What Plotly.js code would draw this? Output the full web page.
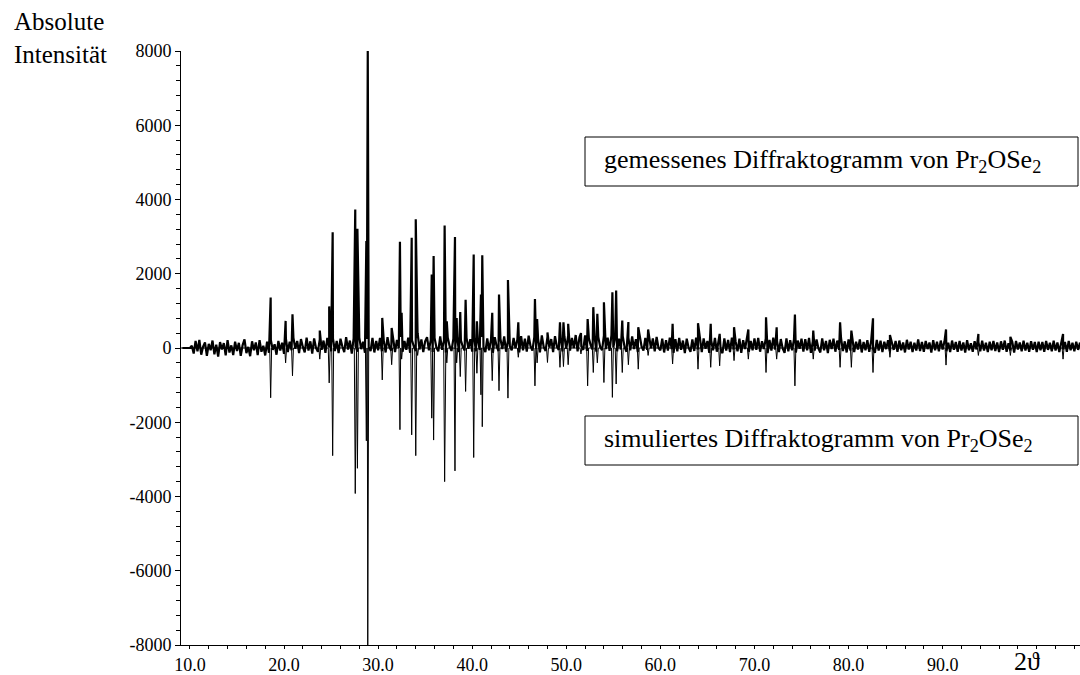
<!DOCTYPE html>
<html>
<head>
<meta charset="utf-8">
<script src="https://cdn.plot.ly/plotly-3.0.1.min.js"></script>
<style>html,body{margin:0;padding:0;background:#fff;}#chart{width:1080px;height:675px;}</style>
</head>
<body>
<div id="chart"></div>
<script>
// ---- data ----
// 2-theta positions of the reflections (degrees)
const peakPos = [18.58,20.17,20.9,23.8,24.8,25.17,27.57,27.8,28.75,28.9,
  30.44,31.44,32.32,32.5,33.57,34.0,34.2,35.7,35.9,37.07,37.3,38.17,38.35,38.73,39.3,
  40.16,40.5,40.93,41.07,42.13,42.85,43.8,44.9,46.67,46.9,48.0,49.33,49.7,50.2,51.56,
  52.27,52.87,53.3,54.0,54.9,55.3,55.95,56.6,57.65,58.7,61.3,64.0,65.35,66.3,67.83,
  69.35,71.23,72.36,74.3,76.25,79.1,80.3,82.6,84.4,90.36,93.8,97.2,102.8];
// measured peak heights (positive)
const measHeight = [1360,730,910,470,1120,3120,3730,3210,2880,8000,
  810,540,2860,950,2970,3470,400,1980,2480,3300,720,2990,810,970,1300,
  2520,720,1440,2500,950,1440,1830,690,1320,780,420,690,690,650,400,
  780,1100,920,1230,1500,1550,740,700,560,500,650,670,650,380,560,
  500,830,560,900,470,690,470,800,350,500,380,300,380];
// simulated peak heights (plotted negative)
const simHeight = [-1340,-400,-750,-300,-940,-2900,-3920,-3240,-2500,-8000,
  -860,-450,-2200,-300,-2340,-2900,-200,-1890,-2480,-3600,-400,-3310,-400,-770,-1170,
  -2950,-680,-1260,-2120,-880,-1150,-1350,-250,-1020,-400,-390,-520,-500,-450,-160,
  -1020,-660,-400,-930,-1330,-970,-660,-450,-570,-200,-430,-570,-520,-480,-340,
  -300,-660,-300,-1020,-300,-520,-520,-660,-250,-460,-200,-200,-300];
// measured background (noise) on a 0.2 degree grid starting at 9.2
const bgStart = 9.2, bgStep = 0.2;
const measBackground = [0,0,0,0,0,
  60,-150,190,-90,220,-180,40,150,-210,110,-60,200,-170,90,-230,160,-40,130,-200,210,-120,70,-190,170,-80,
  140,-210,80,230,-140,30,-220,180,-60,150,-190,210,-100,60,-200,170,-130,220,-50,100,-180,190,-70,140,-160,
  250,-110,170,-60,270,-20,190,-140,240,30,-120,280,-70,180,-150,260,0,-100,230,-50,200,-130,270,10,-90,
  260,-80,190,-140,250,40,-110,290,-40,200,-150,260,50,-100,280,-30,170,-130,240,20,-80,270,-120,190,-60,
  270,-90,200,-120,290,20,-70,250,-110,220,0,300,-100,190,-50,280,-130,210,40,-80,260,-40,230,-110,180,
  290,-60,220,-110,270,10,-90,310,-50,200,-120,280,50,-80,250,-30,300,-110,210,30,-70,270,-20,240,-100,
  280,-90,230,-50,300,0,-110,260,-60,220,-130,290,40,-80,250,-30,310,-100,200,50,-60,270,-10,230,-120,
  320,-60,250,-100,330,50,-70,290,-30,260,-120,340,30,-80,300,10,240,-110,320,40,-50,280,-90,310,-20,
  330,-70,270,0,350,-90,290,40,-50,340,-80,260,70,-40,320,-100,300,30,-60,330,-30,280,-80,350,10,
  290,-90,250,-40,320,20,-100,280,-60,310,-30,240,-110,300,40,-70,270,-50,320,-10,260,-90,300,0,-60,
  250,-120,210,-70,280,-30,-130,240,-90,270,-50,200,-140,250,10,-100,230,-80,280,-40,220,-110,260,-20,190,
  -130,200,-60,270,-100,180,-20,-140,260,-70,220,-110,280,-40,170,-90,250,-130,210,-30,240,-100,190,-60,260,
  -50,270,-100,180,-30,250,-140,220,-70,280,-40,190,-110,240,-10,-130,260,-90,210,-60,230,-120,200,-20,250,
  -100,240,-60,270,-130,180,-70,230,-10,-120,260,-60,190,-140,220,-30,250,-100,200,-50,270,-80,180,-120,230,
  -70,220,-110,170,-40,230,-120,160,-60,210,-100,180,-20,-130,220,-70,200,-110,170,-30,210,-90,160,-50,190,
  -100,200,-60,150,-120,220,-40,170,-110,140,-70,230,-80,160,-100,190,-30,150,-120,210,-60,170,-90,200,-40,
  180,-90,140,-110,200,-50,160,-100,190,-70,150,-120,210,-60,130,-100,180,-40,160,-90,200,-70,140,-110,170,
  -60,190,-80,150,-110,180,-50,200,-100,130,-70,170,-120,190,-40,150,-90,200,-70,140,-100,180,-50,160,-110,
  170,-60,160,-100,190,-50,140,-90,200,-70,150,-110,180,-40,160,-100,190,-60,140,-90,170,-50,150];
const xTickVals = [10,20,30,40,50,60,70,80,90];
const xTickText = ["10.0","20.0","30.0","40.0","50.0","60.0","70.0","80.0","90.0"];
const yTickVals = [-8000,-6000,-4000,-2000,0,2000,4000,6000,8000];
const yTickText = ["-8000","-6000","-4000","-2000","0","2000","4000","6000","8000"];

// ---- build traces ----
const xMin = 9.05, xMax = 104.6;
let meas = [];
measBackground.forEach((v,i)=>meas.push([bgStart + i*bgStep, v]));
peakPos.forEach((p,i)=>meas.push([p, measHeight[i]]));
meas.sort((a,b)=>a[0]-b[0]);

const half = 0.1;
let sim = [[xMin,0],[xMax,0]];
peakPos.forEach((p,i)=>{ sim.push([p-half,0]); sim.push([p,simHeight[i]]); sim.push([p+half,0]); });
sim.sort((a,b)=>a[0]-b[0]);

const serif = "Liberation Serif";

const traces = [
  {type:'scatter', mode:'lines', x:sim.map(d=>d[0]), y:sim.map(d=>d[1]),
   line:{color:'#000', width:1}, hoverinfo:'skip'},
  {type:'scatter', mode:'lines', x:meas.map(d=>d[0]), y:meas.map(d=>d[1]),
   line:{color:'#000', width:2.2}, hoverinfo:'skip'}
];

const L = 181, T = 51, W = 1080 - 181, H = 645 - 51;
const px = x => (x - L) / W;
const py = y => (645 - y) / H;

const layout = {
  width:1080, height:675,
  margin:{l:L, r:0, t:T, b:675-645, pad:0},
  paper_bgcolor:'#fff', plot_bgcolor:'#fff',
  showlegend:false,
  font:{family:serif, color:'#000', size:18},
  xaxis:{range:[xMin,xMax], showgrid:false, zeroline:false, showline:true, linecolor:'#000', linewidth:1,
    tickmode:'array', tickvals:xTickVals, ticktext:xTickText, ticks:'outside', ticklen:3, tickcolor:'#000',
    tickfont:{family:serif, size:18, color:'#000'},
    minor:{dtick:2, tick0:0, ticks:'outside', ticklen:3, tickcolor:'#000', showgrid:false}},
  yaxis:{range:[-8000,8000], showgrid:false, zeroline:false, showline:true, linecolor:'#000', linewidth:1,
    tickmode:'array', tickvals:yTickVals, ticktext:yTickText, ticks:'outside', ticklen:5, tickcolor:'#000',
    tickfont:{family:serif, size:18, color:'#000'},
    minor:{dtick:400, tick0:0, ticks:'outside', ticklen:4, tickcolor:'#000', showgrid:false}},
  shapes:[
    {type:'rect', xref:'paper', yref:'paper', x0:px(585), x1:px(1078), y0:py(186), y1:py(137),
     line:{color:'#000', width:1}, fillcolor:'#fff'},
    {type:'rect', xref:'paper', yref:'paper', x0:px(585), x1:px(1078), y0:py(465), y1:py(416),
     line:{color:'#000', width:1}, fillcolor:'#fff'}
  ],
  annotations:[
    {xref:'paper', yref:'paper', x:px(12), y:py(6), xanchor:'left', yanchor:'top', align:'left',
     showarrow:false, text:'Absolute<br>Intensität', font:{family:serif, size:25, color:'#000'}},
    {xref:'paper', yref:'paper', x:px(602), y:py(161), xanchor:'left', yanchor:'middle', align:'left',
     showarrow:false, text:'gemessenes Diffraktogramm von Pr<sub>2</sub>OSe<sub>2</sub>', font:{family:serif, size:26, color:'#000'}},
    {xref:'paper', yref:'paper', x:px(602), y:py(440), xanchor:'left', yanchor:'middle', align:'left',
     showarrow:false, text:'simuliertes Diffraktogramm von Pr<sub>2</sub>OSe<sub>2</sub>', font:{family:serif, size:26, color:'#000'}},
    {xref:'paper', yref:'paper', x:px(1012), y:py(645), xanchor:'left', yanchor:'top', align:'left',
     showarrow:false, text:'2ϑ', font:{family:serif, size:26, color:'#000'}}
  ]
};

Plotly.newPlot('chart', traces, layout, {staticPlot:true, displayModeBar:false});
</script>
</body>
</html>
